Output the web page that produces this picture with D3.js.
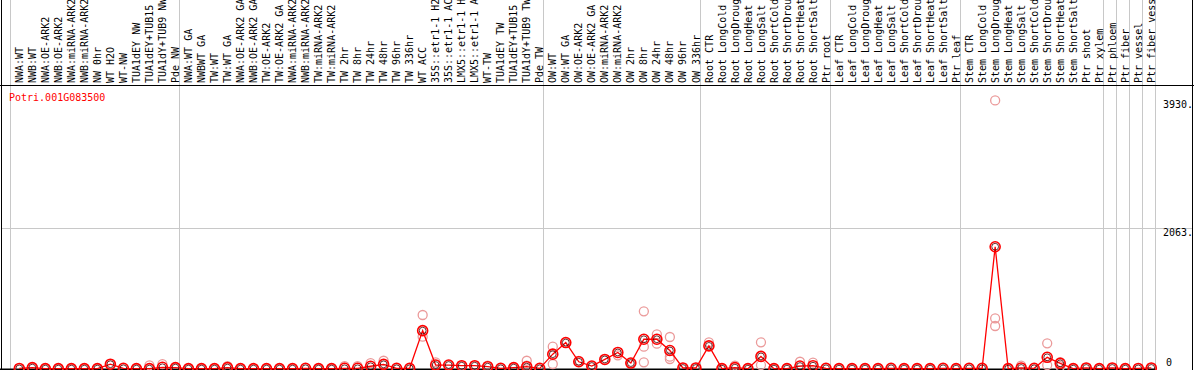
<!DOCTYPE html>
<html><head><meta charset="utf-8">
<script src="https://cdn.jsdelivr.net/npm/d3@7"></script>
<style>body{margin:0;background:#fff}svg{display:block}</style>
</head><body>
<script>
const geneId = "Potri.001G083500";
const categories = [
"NWA:WT","NWB:WT","NWA:OE-ARK2","NWB:OE-ARK2","NWA:miRNA-ARK2","NWB:miRNA-ARK2","NW 0hr","WT H2O","WT-NW","TUA1dEY NW","TUA1dEY+TUB15 NW","TUA1dY+TUB9 NW","Pde NW",
"NWA:WT GA","NWBWT GA","TW:WT","TW:WT GA","NWA:OE-ARK2 GA","NWB:OE-ARK2 GA","TW:OE-ARK2","TW:OE-ARK2 GA","NWA:miRNA-ARK2 ","NWB:miRNA-ARK2 ","TW:miRNA-ARK2","TW:miRNA-ARK2 ","TW 2hr","TW 8hr","TW 24hr","TW 48hr","TW 96hr","TW 336hr","WT ACC","35S::etr1-1 H2O","35S::etr1-1 ACC","LMX5::etr1-1 H2O","LMX5::etr1-1 ACC","WT-TW","TUA1dEY TW","TUA1dEY+TUB15 TW","TUA1dY+TUB9 TW","Pde TW",
"OW:WT","OW:WT GA","OW:OE-ARK2","OW:OE-ARK2 GA","OW:miRNA-ARK2","OW:miRNA-ARK2 ","OW 2hr","OW 8hr","OW 24hr","OW 48hr","OW 96hr","OW 336hr",
"Root CTR","Root LongCold","Root LongDrought","Root LongHeat","Root LongSalt","Root ShortCold","Root ShortDrought","Root ShortHeat","Root ShortSalt","Ptr root",
"Leaf CTR","Leaf LongCold","Leaf LongDrought","Leaf LongHeat","Leaf LongSalt","Leaf ShortCold","Leaf ShortDrought","Leaf ShortHeat","Leaf ShortSalt","Ptr leaf",
"Stem CTR","Stem LongCold","Stem LongDrought","Stem LongHeat","Stem LongSalt","Stem ShortCold","Stem ShortDrought","Stem ShortHeat","Stem ShortSalt","Ptr shoot","Ptr xylem",
"Ptr phloem","Ptr fiber","Ptr vessel","Ptr fiber vessel"];
// first category of each separated group
const groupStarts = ["NWA:WT","NWA:WT GA","OW:WT","Root CTR","Leaf CTR","Stem CTR","Ptr phloem","Ptr fiber","Ptr vessel","Ptr fiber vessel"];
const meanValues = [
8,20,5,5,5,5,5,70,10,5,5,25,20,
5,5,5,20,5,5,5,5,5,10,5,5,10,10,40,68,10,10,561,58,58,48,48,34,10,20,34,10,
217,387,106,43,140,242,87,435,435,271,15,15,
338,5,20,5,184,5,5,43,48,10,
5,5,5,5,10,5,5,5,10,5,
10,10,1789,5,15,10,171,83,5,15,5,
15,5,8,15];
const replicateValues = [
[8],[20],[5],[5],[5],[5],[5],[70],[10],[5],[54],[70],[20],
[5],[5],[5],[40],[5],[5],[5],[5],[5],[10],[5],[5],[40],[40],[85],[121],[10],[10],[790,473],[98],[58],[48],[48],[50],[10],[20],[121,50],[10],
[326,73],[387],[120],[43],[140],[200],[87],[844,326,98],[508,370],[468,181,146],[15],[15],
[391],[5],[50],[5],[391,58],[5],[5],[106],[92],[10],
[5],[5],[5],[5],[10],[5],[5],[5],[10],[5],
[10],[10],[3930,741,629],[5],[50],[10],[376,58],[102,40],[5],[15],[5],
[15],[5],[8],[15]];
const axisTicks = [0, 2063, 3930];
const axisTickLabels = ["0", "2063.", "3930."];

const W = 1194, H = 370;
const svg = d3.select("body").append("svg").attr("width", W).attr("height", H)
  .style("font-family", "'DejaVu Sans Mono', monospace").style("font-size", "10px");

const x = d3.scaleBand().domain(categories).range([10, 1155]).paddingInner(0).paddingOuter(0);
const px = c => x(c) + x.bandwidth() * 0.715;
const y = d3.scaleLinear().domain([0, 3930]).range([369, 100.4]);

// horizontal grid at 2063
svg.append("line").attr("x1", 1).attr("x2", 1193).attr("y1", Math.round(y(2063)) + 0.5).attr("y2", Math.round(y(2063)) + 0.5)
  .attr("stroke", "#c8c8c8").attr("stroke-width", 1);

// group separators
const seps = groupStarts.map(c => x(c)).concat([x.range()[1]]);
svg.selectAll("line.sep").data(seps).enter().append("line").attr("class", "sep")
  .attr("x1", d => Math.round(d) + 0.5).attr("x2", d => Math.round(d) + 0.5)
  .attr("y1", 0).attr("y2", 369).attr("stroke", "#c8c8c8").attr("stroke-width", 1);

// frame lines
svg.append("line").attr("x1", 0).attr("x2", W).attr("y1", 85.5).attr("y2", 85.5).attr("stroke", "#000");
svg.append("line").attr("x1", 1.5).attr("x2", 1.5).attr("y1", 0).attr("y2", H).attr("stroke", "#000");
svg.append("line").attr("x1", 1192.5).attr("x2", 1192.5).attr("y1", 0).attr("y2", H).attr("stroke", "#000");
svg.append("line").attr("x1", 0).attr("x2", 1156).attr("y1", 369.5).attr("y2", 369.5).attr("stroke", "#000").attr("stroke-width", 2);

// category labels
svg.selectAll("text.cat").data(categories).enter().append("text").attr("class", "cat")
  .attr("transform", c => `translate(${px(c)},83) rotate(-90)`)
  .attr("dy", "0.36em").attr("text-anchor", "start").attr("fill", "#000")
  .text(c => c.trim());

// right axis labels
const axisG = svg.append("g");
axisG.selectAll("text").data(axisTicks).enter().append("text")
  .attr("x", (d, i) => i === 0 ? 1166 : 1163)
  .attr("y", (d, i) => y(d) + (i === 0 ? -7 : 4.5))
  .attr("dy", "0.35em").attr("fill", "#000")
  .text((d, i) => axisTickLabels[i]);

// gene id
svg.append("text").attr("x", 9).attr("y", 101).attr("fill", "#ff0000").text(geneId);

// replicates
const reps = [];
categories.forEach((c, i) => replicateValues[i].forEach(v => reps.push({c, v})));
svg.append("g").selectAll("circle").data(reps).enter().append("circle")
  .attr("cx", d => px(d.c)).attr("cy", d => y(d.v)).attr("r", 4.5)
  .attr("fill", "none").attr("stroke", "#eb9a9a").attr("stroke-width", 1.3);

// mean line
const line = d3.line().x((d, i) => px(categories[i])).y(d => y(d));
svg.append("path").datum(meanValues).attr("d", line).attr("fill", "none")
  .attr("stroke", "#ff0000").attr("stroke-width", 1.3);

// mean markers
const mg = svg.append("g").selectAll("g").data(meanValues).enter().append("g")
  .attr("transform", (d, i) => `translate(${px(categories[i])},${y(d)})`);
mg.append("circle").attr("r", 5).attr("fill", "none").attr("stroke", "#ff0000").attr("stroke-width", 1.6);
mg.append("circle").attr("r", 3.4).attr("fill", "none").attr("stroke", "#400000").attr("stroke-width", 0.8);
</script>
</body></html>
